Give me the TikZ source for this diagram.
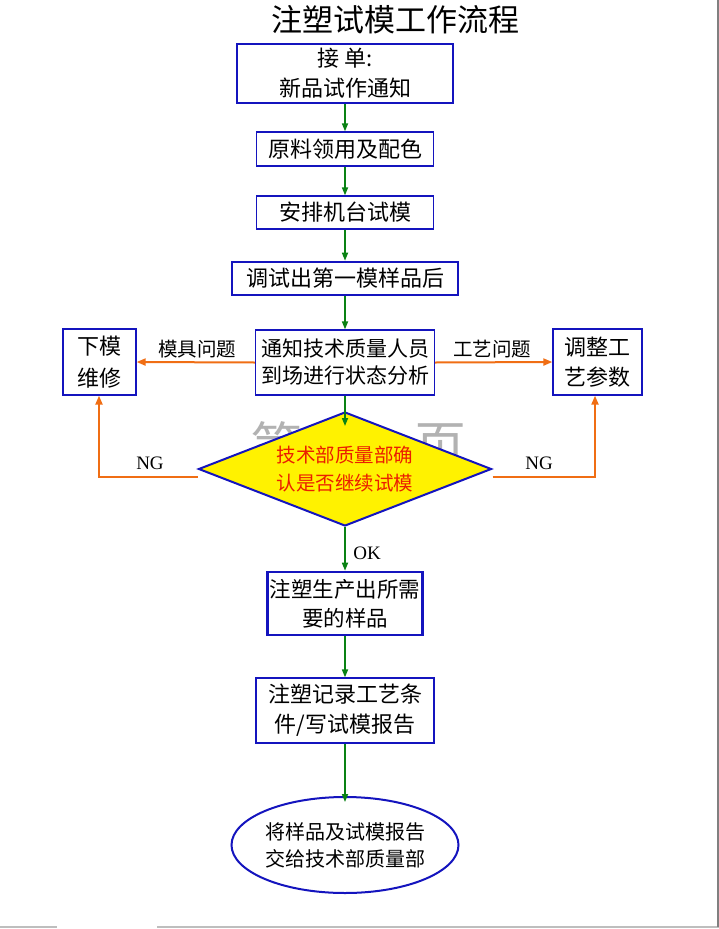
\documentclass[tikz,border=0pt]{standalone}
\usepackage{fontspec}
\setmainfont{Liberation Serif}
\newfontfamily\cjk{Noto Sans CJK SC}
\usetikzlibrary{arrows.meta,shapes.geometric}
\definecolor{bblue}{RGB}{20,20,190}
\definecolor{fgreen}{RGB}{10,130,20}
\definecolor{forange}{RGB}{240,110,20}
\definecolor{fred}{RGB}{235,30,0}
\definecolor{pgray}{RGB}{190,190,190}
\tikzset{
  boxthin/.style={draw=bblue,line width=1.3pt,fill=white,inner sep=0pt,align=center,
    font=\cjk\fontsize{22}{30}\selectfont},
  boxthick/.style={boxthin,line width=2.6pt},
  garrow/.style={draw=fgreen,line width=1.6pt,-{Triangle[length=8pt,width=6pt]}},
  oarrow/.style={draw=forange,line width=2pt,-{Triangle[length=9pt,width=7pt]}},
  lbl/.style={font=\cjk\fontsize{19.5}{22}\selectfont,inner sep=0pt},
  ngl/.style={font=\fontsize{19}{22}\selectfont,inner sep=0pt},
}
\begin{document}
\begin{tikzpicture}[x=1pt,y=-1pt]
\useasboundingbox (0,0) rectangle (719,929);
\fill[white] (0,0) rectangle (719,929);
% page artifacts
\draw[pgray,line width=2pt] (0,927) -- (57,927);
\draw[pgray,line width=2pt] (157,927) -- (719,927);
\draw[gray,line width=1.3pt] (718,0) -- (718,927);

% title
\node[font=\cjk\fontsize{31}{34}\selectfont,inner sep=0pt] (title) at (395,20) {注塑试模工作流程};

% watermark
\node[font=\cjk\fontsize{52}{56}\selectfont,text=gray!60,inner sep=0pt] (wm1) at (276,446) {第};
\node[font=\cjk\fontsize{52}{56}\selectfont,text=gray!60,inner sep=0pt] (wm2) at (440,446) {页};

% boxes
\node[boxthick,minimum width=216pt,minimum height=59pt] (b1) at (345,73.5) {接\ 单:\\新品试作通知};
\node[boxthin,minimum width=177pt,minimum height=34pt] (b2) at (345,149) {原料领用及配色};
\node[boxthin,minimum width=177pt,minimum height=33pt] (b3) at (345,212.5) {安排机台试模};
\node[boxthick,minimum width=226pt,minimum height=33pt] (b4) at (345,278.5) {调试出第一模样品后};
\node[boxthin,minimum width=179pt,minimum height=65pt,font=\cjk\fontsize{21}{27}\selectfont] (b5) at (345,362.5) {通知技术质量人员\\到场进行状态分析};
\node[boxthin,minimum width=73pt,minimum height=66pt,font=\cjk\fontsize{22}{32}\selectfont] (bl) at (99.5,362) {下模\\维修};
\node[boxthin,minimum width=89pt,minimum height=66pt,font=\cjk\fontsize{22}{30}\selectfont] (br) at (597.5,362) {调整工\\艺参数};

\node[diamond,draw=bblue,line width=2pt,fill=yellow,inner sep=0pt,shape aspect=2.56,
      minimum width=293pt,minimum height=114pt,align=center,text=fred,
      font=\cjk\fontsize{19.5}{28}\selectfont] (dia) at (345,469) {技术部质量部确\\认是否继续试模};

\node[boxthick,minimum width=155pt,minimum height=63pt,font=\cjk\fontsize{21.5}{29}\selectfont] (b6) at (345,603.5) {注塑生产出所需\\要的样品};
\node[boxthin,minimum width=178pt,minimum height=65pt] (b7) at (345,710.5) {注塑记录工艺条\\件/写试模报告};
\node[ellipse,draw=bblue,line width=2pt,fill=white,inner sep=0pt,minimum width=227pt,minimum height=96pt,
      align=center,font=\cjk\fontsize{20}{27}\selectfont] (ell) at (345,845) {将样品及试模报告\\交给技术部质量部};

% green arrows
\draw[garrow] (b1.south) -- (b2.north);
\draw[garrow] (b2.south) -- (b3.north);
\draw[garrow] (b3.south) -- (b4.north);
\draw[garrow] (b4.south) -- (b5.north);
\draw[garrow] (b5.south) -- ([yshift=-15pt]dia.north);
\draw[garrow] (dia.south) -- (b6.north);
\draw[garrow] (b6.south) -- (b7.north);
\draw[garrow] (b7.south) -- ([yshift=-6pt]ell.north);

% orange arrows
\draw[oarrow] (b5.west) -- (bl.east);
\draw[oarrow] (b5.east) -- (br.west);
\coordinate (ngl) at (99,477);
\coordinate (ngr) at (595,477);
\draw[oarrow] (dia.west |- ngl) -- (ngl) -- (ngl |- bl.south);
\draw[oarrow] (dia.east |- ngr) -- (ngr) -- (ngr |- br.south);

% labels
\node[lbl] (l1) at (197,349) {模具问题};
\node[lbl] (l2) at (492,349) {工艺问题};
\node[ngl] (ng1) at (150,463) {NG};
\node[ngl] (ng2) at (539,463) {NG};
\node[ngl] (ok) at (367,553) {OK};
\end{tikzpicture}
\end{document}
